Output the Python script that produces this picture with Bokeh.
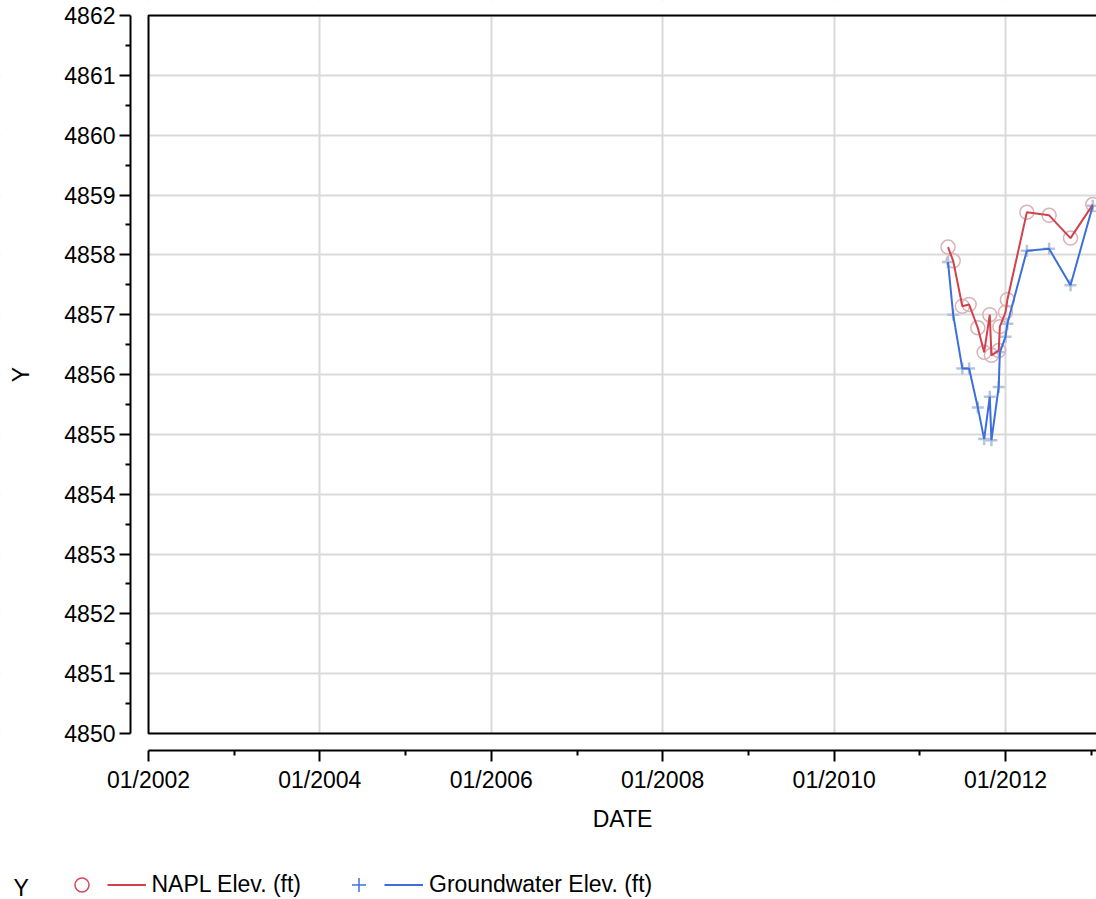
import numpy as np
import pandas as pd
from bokeh.plotting import figure
from bokeh.models import (Range1d, FixedTicker, DatetimeTickFormatter, BoxAnnotation,
                          Legend, LegendItem, Label)
from bokeh.embed import file_html
from bokeh.resources import INLINE

# ---------------- data ----------------
DATES = ["2011-05-01", "2011-05-23", "2011-07-01", "2011-07-30", "2011-09-05",
         "2011-10-02", "2011-10-26", "2011-11-02", "2011-12-03", "2011-12-08",
         "2012-01-01", "2012-01-09", "2012-04-01", "2012-07-05", "2012-10-04",
         "2013-01-07"]
NAPL = [4858.13, 4857.90, 4857.14, 4857.17, 4856.78,
        4856.37, 4857.00, 4856.32, 4856.40, 4856.80,
        4857.04, 4857.25, 4858.71, 4858.66, 4858.28,
        4858.84]
GW = [4857.88, 4857.00, 4856.10, 4856.10, 4855.45,
      4854.92, 4855.63, 4854.90, 4855.79, 4856.37,
      4856.63, 4856.85, 4858.07, 4858.10, 4857.49,
      4858.82]
Y_TICKS = list(range(4850, 4863))
Y_MINOR = [v + 0.5 for v in range(4850, 4862)]
X_TICK_YEARS = [2002, 2004, 2006, 2008, 2010, 2012]
X_MINOR_YEARS = [2003, 2005, 2007, 2009, 2011, 2013]
SERIES_NAMES = ["NAPL Elev. (ft)", "Groundwater Elev. (ft)"]
Y_LABEL = "Y"
X_LABEL = "DATE"

FONT = "Liberation Sans"
FS = "23px"
RED = "#d2414c"
BLUE = "#3c6fdb"


def ms(s):
    return pd.Timestamp(s).value / 1e6


W, H = 1096, 899
x_dates = [ms(d) for d in DATES]
x0 = ms("2002-01-01")
px_per_ms = 857.0 / (ms("2012-01-01") - x0)        # 01/2002 at px 148, 01/2012 at px 1005
x_start = x0 - 148.0 / px_per_ms
x_end = x0 + (W - 148.0) / px_per_ms
x_axis_pos = x0 - 18.0 / px_per_ms                  # y-axis line at px 130
px_per_unit = 718.0 / 12.0                          # 4862 at px 15, 4850 at px 733
y_end = Y_TICKS[-1] + 15.0 / px_per_unit
y_start = Y_TICKS[0] - (H - 733.0) / px_per_unit
y_axis_pos = Y_TICKS[0] - 17.0 / px_per_unit        # x-axis line at px 750
DAY = 86400000.0

p = figure(width=W, height=H, x_axis_type="datetime",
           x_range=Range1d(x_start, x_end), y_range=Range1d(y_start, y_end),
           output_backend="svg", toolbar_location=None, min_border=0,
           min_border_left=0, min_border_right=0, min_border_top=0, min_border_bottom=0)
p.outline_line_color = None
p.background_fill_color = "white"

# grids
for g in (p.xgrid, p.ygrid):
    g.grid_line_color = "#d9d9d9"
    g.grid_line_width = 2

# white covers outside the data box
cover = dict(fill_color="white", fill_alpha=1, line_color=None, level="glyph")
p.add_layout(BoxAnnotation(left=x_start, right=x0, bottom=y_start, top=y_end, **cover))
p.add_layout(BoxAnnotation(left=x_start, right=x_end, bottom=y_start, top=Y_TICKS[0], **cover))
p.add_layout(BoxAnnotation(left=x_start, right=x_end, bottom=Y_TICKS[-1], top=y_end, **cover))
# data box
p.add_layout(BoxAnnotation(left=x0, right=x_end + 200 * DAY, bottom=Y_TICKS[0], top=Y_TICKS[-1],
                           fill_color=None, fill_alpha=0, line_color="black", line_alpha=1,
                           line_width=2, level="overlay"))

# axes
xa = p.xaxis[0]
xa.fixed_location = y_axis_pos
xa.ticker = FixedTicker(ticks=[ms(f"{y}-01-01") for y in X_TICK_YEARS],
                        minor_ticks=[ms(f"{y}-01-01") for y in X_MINOR_YEARS])
fmt = "%m/%Y"
xa.formatter = DatetimeTickFormatter(microseconds=fmt, milliseconds=fmt, seconds=fmt,
                                     minsec=fmt, minutes=fmt, hourmin=fmt, hours=fmt,
                                     days=fmt, months=fmt, years=fmt)
xa.bounds = (x0, x_end + 200 * DAY)
xa.axis_label = X_LABEL
xa.axis_label_standoff = 10

ya = p.yaxis[0]
ya.fixed_location = x_axis_pos
ya.ticker = FixedTicker(ticks=Y_TICKS, minor_ticks=Y_MINOR)
ya.bounds = (Y_TICKS[0], Y_TICKS[-1])
ya.axis_label = Y_LABEL
ya.axis_label_standoff = 27

for ax in (xa, ya):
    ax.axis_line_width = 2
    ax.axis_line_color = "black"
    ax.major_tick_line_width = 2
    ax.minor_tick_line_width = 2
    ax.major_tick_line_color = "black"
    ax.minor_tick_line_color = "black"
    ax.major_tick_out = 11
    ax.major_tick_in = 0
    ax.minor_tick_out = 5
    ax.minor_tick_in = 0
    ax.major_label_text_font = FONT
    ax.major_label_text_font_size = FS
    ax.major_label_text_color = "black"
    ax.axis_label_text_font = FONT
    ax.axis_label_text_font_size = FS
    ax.axis_label_text_font_style = "normal"
    ax.axis_label_text_color = "black"
xa.major_label_standoff = 5
ya.major_label_standoff = 4

# data
p.scatter(x_dates, NAPL, marker="circle", size=14, fill_color=None,
          line_color="#d9b3b8", line_width=1.5)
p.scatter(x_dates, GW, marker="cross", size=12, line_color="#b5c3dc", line_width=2.5)
p.line(x_dates, NAPL, line_color=RED, line_width=2)
p.line(x_dates, GW, line_color=BLUE, line_width=2)

# legend proxies (nothing drawn on the plot)
px_c = p.scatter([np.nan], [np.nan], marker="circle", fill_color=None,
                 line_color="#d24a5c", line_width=1.5)
px_rl = p.line([np.nan], [np.nan], line_color=RED, line_width=2)
px_p = p.scatter([np.nan], [np.nan], marker="cross", line_color="#3e73e0", line_width=1.5)
px_bl = p.line([np.nan], [np.nan], line_color=BLUE, line_width=2)


def make_legend(items, vx):
    return Legend(items=items, orientation="horizontal", location=(vx, -2.5),
                  padding=0, spacing=0, margin=0, label_standoff=6, label_width=0,
                  glyph_width=39, glyph_height=35,
                  label_text_font=FONT, label_text_font_size=FS, label_text_color="black",
                  border_line_color=None, background_fill_color=None)


p.add_layout(make_legend([LegendItem(label="", renderers=[px_c]),
                          LegendItem(label=SERIES_NAMES[0], renderers=[px_rl])], 61.5))
p.add_layout(make_legend([LegendItem(label="", renderers=[px_p]),
                          LegendItem(label=SERIES_NAMES[1], renderers=[px_bl])], 339))
p.add_layout(Label(x=13, y=12, x_units="screen", y_units="screen", text=Y_LABEL,
                   text_font=FONT, text_font_size=FS, text_baseline="middle",
                   text_color="black"))

open("out.html", "w").write(file_html(p, INLINE))
